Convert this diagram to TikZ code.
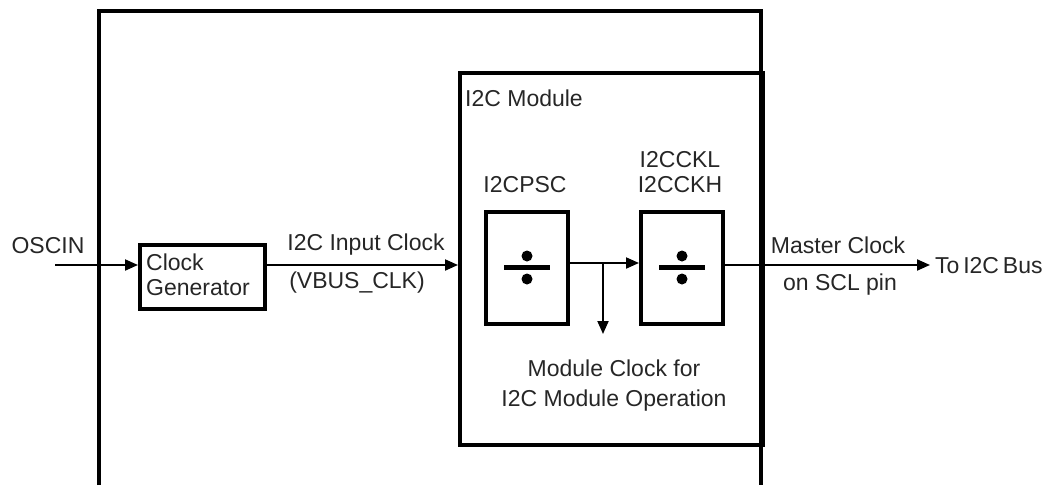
\documentclass[tikz,border=0pt]{standalone}
\usepackage{fontspec}
\setmainfont{Liberation Sans}
\usetikzlibrary{arrows.meta}
\begin{document}
\begin{tikzpicture}[x=1pt,y=-1pt,
  lbl/.style={font=\fontsize{23}{27}\selectfont, inner sep=0pt, text=black!85},
  thickbox/.style={draw, line width=4pt, inner sep=0pt},
  wire/.style={line width=2pt},
  arr/.style={wire, -{Triangle[length=13pt,width=11pt]}},
  outer/.style={line width=3.5pt},
  dot/.style={circle, fill, inner sep=0pt, minimum size=11pt}
]
\useasboundingbox (0,0) rectangle (1045,485);
% outer frame
\coordinate (oBL) at (99,485);
\coordinate (oTL) at (99,11);
\coordinate (oTR) at (761,11);
\coordinate (oBR) at (761,485);
\draw[outer] (oBL) -- (oTL) -- (oTR) -- (oBR);
% module
\node[thickbox, draw, minimum width=303pt, minimum height=372pt, anchor=north west] (mod) at (458,71) {};
\node[lbl, anchor=west] (modlbl) at (465,98) {I2C Module};
% clock generator
\node[thickbox, minimum width=125pt, minimum height=64pt, anchor=north west] (cg) at (138,243) {};
\node[lbl, anchor=west, align=left] (cgt) at (146,275) {Clock\\[-2pt]Generator};
% OSCIN
\node[lbl] (osc) at (48,246) {OSCIN};
\coordinate (oscin) at (55,265);
\draw[arr] (oscin) -- (cg.west |- oscin);
% input clock
\draw[arr] (cg.east |- oscin) -- (mod.west |- oscin);
\node[lbl] (icl) at (366,245) {I2C Input Clock};
\node[lbl] (vbus) at (357,283) {(VBUS\_CLK)};
% dividers
\node[thickbox, minimum width=82pt, minimum height=112pt, anchor=north west] (psc) at (484,210) {};
\node[thickbox, minimum width=82pt, minimum height=112pt, anchor=north west] (cck) at (639,210) {};
\foreach \b in {psc,cck}{
  \draw[line width=5pt] ([xshift=-23pt,yshift=1pt]\b.center) -- ([xshift=23pt,yshift=1pt]\b.center);
  \node[dot] at ([yshift=12pt]\b.center) {};
  \node[dot] at ([yshift=-11pt]\b.center) {};
}
\node[lbl] (psclbl) at (525,185) {I2CPSC};
\node[lbl] (ckl) at (680,160) {I2CCKL};
\node[lbl] (ckh) at (680,185) {I2CCKH};
\coordinate (m1) at (566,263);
\draw[arr] (m1) -- (cck.west |- m1);
\coordinate (br) at (603,263);
\coordinate (brend) at (603,334);
\draw[arr] (br) -- (brend);
\node[lbl] (mc1) at (614,368) {Module Clock for};
\node[lbl] (mc2) at (614,401) {I2C Module Operation};
% output
\coordinate (outend) at (930,265);
\draw[arr] (cck.east |- outend) -- (outend);
\node[lbl, anchor=west] (bus) at (935,266) {To\,I2C\,Bus};
\node[lbl] (mst) at (838,245) {Master Clock};
\node[lbl] (scl) at (840,285) {on SCL pin};
\end{tikzpicture}
\end{document}
